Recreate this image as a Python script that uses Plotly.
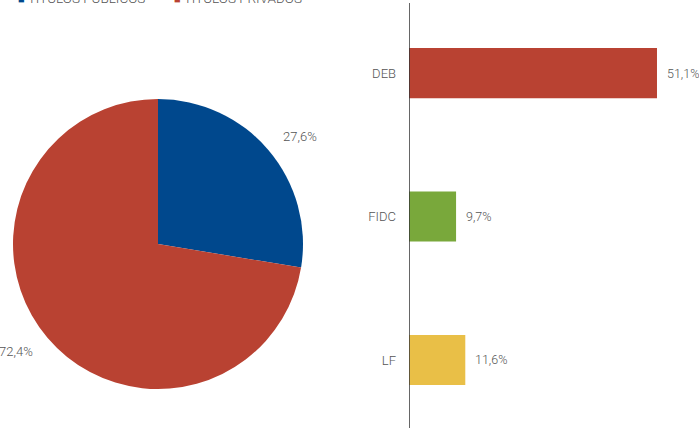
import math
import plotly.graph_objects as go

# Pie data
pie_labels = ["TÍTULOS PÚBLICOS", "TÍTULOS PRIVADOS"]
pie_values = [27.6, 72.4]
pie_colors = ["#00488d", "#b94232"]

# Bar data
bar_cats = ["DEB", "FIDC", "LF"]
bar_values = [51.1, 9.7, 11.6]
bar_colors = ["#b94232", "#79a83b", "#e9bf47"]

FONT = "Roboto"
TXT = "#555555"
W, H = 699, 428

# pie geometry (figure pixels)
PCX, PCY, PR = 158, 244, 145
# bar geometry
AX0 = 409            # x pixel of value 0
PX_PER_UNIT = 4.853

def fmt(v):
    return f"{v:.1f}%".replace(".", ",")

fig = go.Figure()

fig.add_trace(go.Pie(
    labels=pie_labels, values=pie_values,
    marker=dict(colors=pie_colors, line=dict(width=0)),
    sort=False, direction="clockwise", rotation=0,
    textinfo="none",
    domain=dict(x=[(PCX - PR) / W, (PCX + PR) / W],
                y=[(H - PCY - PR) / H, (H - PCY + PR) / H]),
    showlegend=False, hoverinfo="label+percent",
))

# pie percentage labels, placed outside each slice from the data
total = sum(pie_values)
cum = 0.0
for v in pie_values:
    mid = (cum + v / 2) / total * 2 * math.pi
    cum += v
    s, c = math.sin(mid), math.cos(mid)
    lx = PCX + 1.15 * PR * s + 15 * (1 if s >= 0 else -1)
    ly = PCY - 1.15 * PR * c
    fig.add_annotation(
        x=lx / W, y=1 - ly / H, xref="paper", yref="paper",
        xanchor="center", yanchor="middle", showarrow=False,
        text=fmt(v / total * 100),
        font=dict(family=FONT, size=13, color=TXT, weight=300),
    )

fig.add_trace(go.Bar(
    y=list(range(len(bar_cats))), x=bar_values, orientation="h",
    marker=dict(color=bar_colors, line=dict(width=0)),
    width=0.35, xaxis="x", yaxis="y", showlegend=False,
    hoverinfo="x+text", hovertext=bar_cats,
))

# value labels for bars
for i, v in enumerate(bar_values):
    fig.add_annotation(
        x=v, y=i, xref="x", yref="y", xanchor="left", yanchor="middle",
        text=fmt(v), showarrow=False, xshift=8,
        font=dict(family=FONT, size=12.5, color=TXT, weight=300),
    )

# legend (clipped at top like the reference)
leg_x = [16, 172]
for lx, lab, col in zip(leg_x, pie_labels, pie_colors):
    fig.add_annotation(
        x=lx / W, y=1 + 2 / H, xref="paper", yref="paper",
        xanchor="left", yanchor="middle", showarrow=False,
        text=f"<span style='color:{col};font-size:11px'>■</span> {lab}",
        font=dict(family=FONT, size=13.5, color=TXT, weight=300),
    )

# vertical axis line of the bar chart
fig.add_shape(type="line", xref="x", yref="paper", x0=0, x1=0,
              y0=0, y1=1 - 3 / H, line=dict(color="#333333", width=1.5))

fig.update_layout(
    width=W, height=H,
    margin=dict(l=0, r=0, t=0, b=0),
    paper_bgcolor="white", plot_bgcolor="white",
    separators=",.",
    showlegend=False,
    font=dict(family=FONT, color=TXT),
    xaxis=dict(domain=[AX0 / W, 1], range=[0, (W - AX0) / PX_PER_UNIT],
               visible=False, fixedrange=True),
    yaxis=dict(anchor="x", domain=[0, 1], range=[2.474, -0.509],
               tickmode="array", tickvals=list(range(len(bar_cats))),
               ticktext=bar_cats, showgrid=False, zeroline=False,
               showline=False, ticks="", ticklabelstandoff=12,
               tickfont=dict(family=FONT, size=13, color=TXT, weight=300)),
)

fig.write_html("out.html",
               config={"displayModeBar": False},
               post_script="document.body.style.margin='0';")
